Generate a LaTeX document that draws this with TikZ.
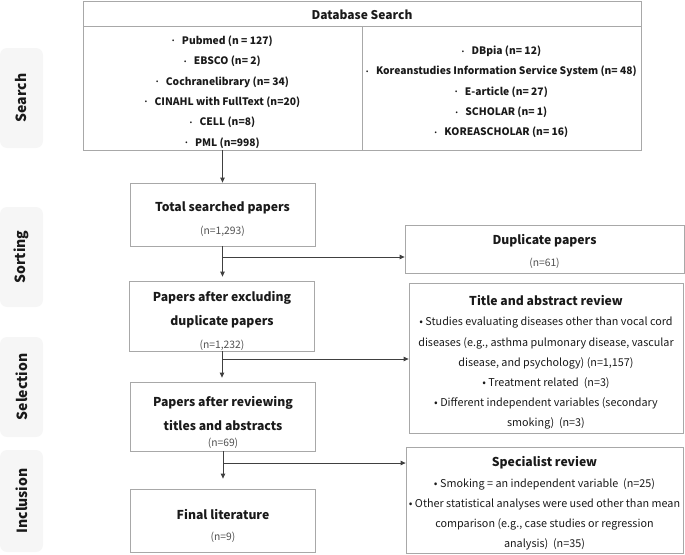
\documentclass[tikz,border=0pt]{standalone}
\usepackage{fontspec}
\usepackage{graphicx}
\setmainfont{Noto Sans CJK KR}
\usetikzlibrary{arrows.meta}
\definecolor{bord}{HTML}{A8A8A8}
\definecolor{lin}{HTML}{404040}
\definecolor{stagefill}{HTML}{F6F6F6}
\definecolor{ntext}{HTML}{505050}
\definecolor{txt}{HTML}{1A1A1A}
\newcommand{\sbul}{\raisebox{0.15em}{\scalebox{0.55}{•}}\hspace{7.5pt}}
\tikzset{
  box/.style={draw=bord, line width=0.8pt, rectangle, inner sep=0pt},
  stage/.style={fill=stagefill, rounded corners=7pt, inner sep=0pt, rotate=90,
    minimum height=43pt, text=txt, font=\bfseries\fontsize{14}{16}\selectfont},
  conn/.style={draw=lin, line width=0.8pt, -{Triangle[length=5pt,width=4.5pt]}},
  dbitem/.style={font=\bfseries\fontsize{10.3}{20.3}\selectfont, text=txt, inner sep=0pt, align=center},
  dbhead/.style={font=\bfseries\fontsize{12}{14}\selectfont, text=txt, inner sep=0pt},
  ttl/.style={font=\bfseries\fontsize{12.2}{24}\selectfont, text=txt, inner sep=0pt, align=center},
  nval/.style={font=\fontsize{10.3}{12}\selectfont, text=ntext, inner sep=0pt},
  body/.style={font=\fontsize{10.8}{20.2}\selectfont, text=txt, inner sep=0pt, align=center},
}
\begin{document}
\begin{tikzpicture}[x=1pt,y=-1pt]
\useasboundingbox (0,0) rectangle (685,554);
% stage labels
\node[stage, minimum width=100pt] (sSearch) at (21.5,98) {Search};
\node[stage, minimum width=100pt] (sSort) at (21.5,257) {Sorting};
\node[stage, minimum width=100pt] (sSel) at (21.5,387) {Selection};
\node[stage, minimum width=102pt] (sInc) at (21.5,501) {Inclusion};
% database box
\node[box, minimum width=558pt, minimum height=149pt] (db) at (362,75.5) {};
\coordinate (hl) at (83,26);
\coordinate (hr) at (641,26);
\coordinate (dv) at (362,26);
\draw[draw=bord, line width=0.8pt] (hl) -- (hr);
\draw[draw=bord, line width=0.8pt] (dv) -- (dv |- db.south);
\node[dbhead] (dbh) at (362,15) {Database Search};
\node[dbitem] (dbl) at (222.5,92) {\sbul Pubmed (n = 127)\\ \sbul EBSCO (n= 2)\\ \sbul Cochranelibrary (n= 34)\\ \sbul CINAHL with FullText (n=20)\\ \sbul CELL (n=8)\\ \sbul PML (n=998)};
\node[dbitem] (dbr) at (501.5,92) {\sbul DBpia (n= 12)\\ \sbul Koreanstudies Information Service System (n= 48)\\ \sbul E-article (n= 27)\\ \sbul SCHOLAR (n= 1)\\ \sbul KOREASCHOLAR (n= 16)};
% left chain
\node[box, minimum width=185pt, minimum height=63pt] (total) at (222.5,214.5) {};
\node[ttl] (totalt) at (222.5,208) {Total searched papers};
\node[nval] (totaln) at (222.5,231) {(n=1,293)};
\node[box, minimum width=185pt, minimum height=70pt] (excl) at (222,316) {};
\node[ttl] (exclt) at (222,309.5) {Papers after excluding\\duplicate papers};
\node[nval] (excln) at (222,345) {(n=1,232)};
\node[box, minimum width=185pt, minimum height=69pt] (rev) at (223,416.5) {};
\node[ttl] (revt) at (223,414) {Papers after reviewing\\titles and abstracts};
\node[nval] (revn) at (223,443) {(n=69)};
\node[box, minimum width=185pt, minimum height=63pt] (final) at (223,520.5) {};
\node[ttl] (finalt) at (223,515) {Final literature};
\node[nval] (finaln) at (223,537) {(n=9)};
% right boxes
\node[box, minimum width=279pt, minimum height=48pt] (dup) at (544.5,249) {};
\node[ttl] (dupt) at (544.5,241) {Duplicate papers};
\node[nval] (dupn) at (544.5,263) {(n=61)};
\node[box, minimum width=274pt, minimum height=150pt] (tar) at (546,358) {};
\node[ttl] (tart) at (546,301) {Title and abstract review};
\node[body] (tarb) at (546,373.5) {• Studies evaluating diseases other than vocal cord\\diseases (e.g., asthma pulmonary disease, vascular\\disease, and psychology) (n=1,157)\\• Treatment related\ \ (n=3)\\• Different independent variables (secondary\\smoking)\ \ (n=3)};
\node[box, minimum width=277pt, minimum height=106pt] (spec) at (544.5,500) {};
\node[ttl] (spect) at (544.5,463) {Specialist review};
\node[body] (specb) at (544.5,514.5) {• Smoking = an independent variable\ \ (n=25)\\• Other statistical analyses were used other than mean\\comparison (e.g., case studies or regression\\analysis)\ \ (n=35)};
% connectors
\coordinate (a0) at (222.5,150);
\draw[conn] (a0) -- (a0 |- total.north);
\draw[conn, shorten >=4pt] (total.south) -- (total.south |- excl.north);
\draw[conn, shorten >=4pt] (excl.south) -- (excl.south |- rev.north);
\draw[conn, shorten >=10pt] (rev.south) -- (final.north);
\coordinate (b1) at (222.5,257);
\coordinate (b2) at (222,359);
\coordinate (b3) at (223,463);
\draw[conn] (b1) -- (b1 -| dup.west);
\draw[conn] (b2) -- (b2 -| tar.west);
\draw[conn] (b3) -- (b3 -| spec.west);
\end{tikzpicture}
\end{document}
